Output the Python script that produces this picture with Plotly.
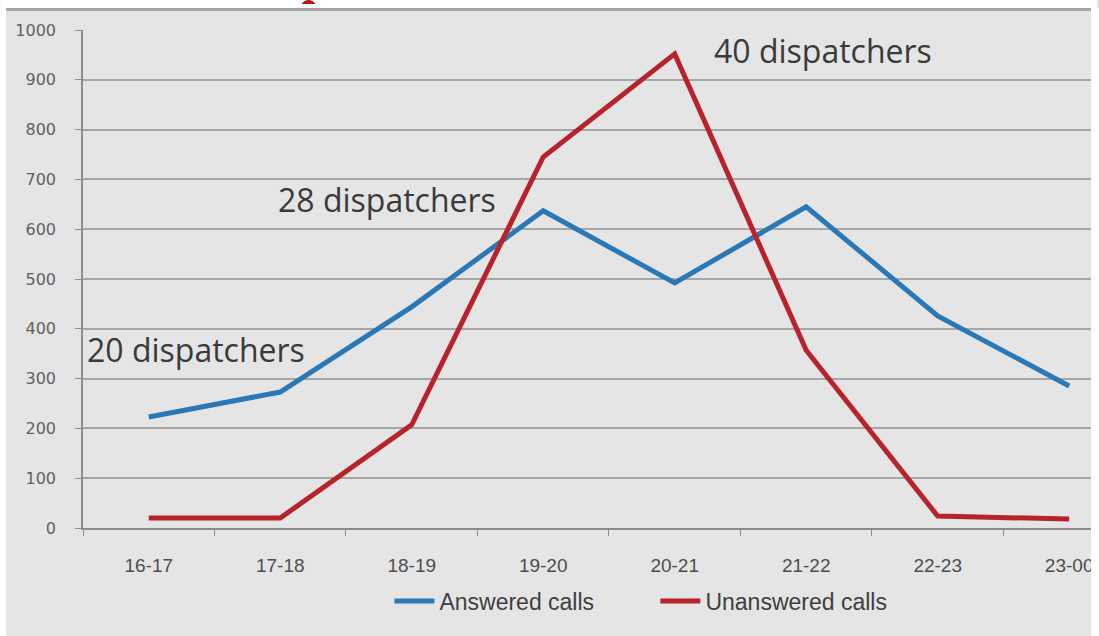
import plotly.graph_objects as go

# Hourly call volumes per evening time slot
hours = ["16-17", "17-18", "18-19", "19-20", "20-21", "21-22", "22-23", "23-00"]
answered = [223, 273, 444, 637, 492, 645, 426, 285]
unanswered = [20, 20, 207, 745, 952, 357, 24, 18]
y_ticks = [0, 100, 200, 300, 400, 500, 600, 700, 800, 900, 1000]

# Staffing notes placed over the chart: (text, left px, centre px)
notes = [
    ("20 dispatchers", 85, 349),
    ("28 dispatchers", 276, 199),
    ("40 dispatchers", 713, 51),
]

W, H = 1099, 636
L, R, T, B = 83, 6, 30, 108
PW, PH = W - L - R, H - T - B
BG = "#e5e5e5"
GRID = "#a6a6a6"
SANS = "Liberation Sans, Arial, sans-serif"

fig = go.Figure()
fig.add_trace(go.Scatter(
    x=hours, y=answered, name="Answered calls", mode="lines",
    line=dict(color="#2b78b6", width=5),
))
fig.add_trace(go.Scatter(
    x=hours, y=unanswered, name="Unanswered calls", mode="lines",
    line=dict(color="#b8232b", width=5),
))


def px_x(px):
    return (px - L) / PW


def px_y(py):
    return (H - B - py) / PH


for text, left, mid in notes:
    fig.add_annotation(
        text=text, xref="paper", yref="paper",
        x=px_x(left), y=px_y(mid), xanchor="left", yanchor="middle",
        showarrow=False,
        font=dict(family="Open Sans, sans-serif", size=32, color="#3a3a3a"),
    )

shapes = [
    # white strip at the top with a grey rule below it
    dict(type="rect", xref="paper", yref="paper",
         x0=px_x(0), x1=px_x(W), y0=px_y(8), y1=px_y(-2),
         fillcolor="white", line_width=0, layer="above"),
    dict(type="line", xref="paper", yref="paper",
         x0=px_x(0), x1=px_x(W), y0=px_y(9.5), y1=px_y(9.5),
         line=dict(color="#a3a3a3", width=3), layer="above"),
    # white margins on the left and right edges
    dict(type="rect", xref="paper", yref="paper",
         x0=px_x(-2), x1=px_x(6), y0=px_y(H + 2), y1=px_y(8),
         fillcolor="white", line_width=0, layer="above"),
    dict(type="rect", xref="paper", yref="paper",
         x0=px_x(1093), x1=px_x(W + 2), y0=px_y(H + 2), y1=px_y(8),
         fillcolor="white", line_width=0, layer="above"),
    # lower edge of the heading glyph above the rule
    dict(type="path", xref="paper", yref="paper",
         path=f"M {px_x(302)},{px_y(4)} Q {px_x(305)},{px_y(0)} {px_x(309)},{px_y(0)} "
              f"Q {px_x(313)},{px_y(0)} {px_x(316)},{px_y(4)} Z",
         fillcolor="#c0101a", line_width=0, layer="above"),
]

fig.update_layout(
    width=W, height=H,
    margin=dict(l=L, r=R, t=T, b=B, pad=0),
    paper_bgcolor=BG, plot_bgcolor=BG,
    showlegend=True,
    legend=dict(
        orientation="h", xref="paper", yref="paper",
        x=px_x(390), y=px_y(601), xanchor="left", yanchor="middle",
        font=dict(family=SANS, size=23, color="#3f3f3f"),
        bgcolor="rgba(0,0,0,0)", itemwidth=40, tracegroupgap=0,
        entrywidth=211, entrywidthmode="pixels",
    ),
    shapes=shapes,
)

fig.update_xaxes(
    type="category", range=[-0.5, -0.5 + PW / ((1137 - L) / 8)],
    tickson="boundaries", ticks="outside", ticklen=6, tickcolor="#8c8c8c",
    showgrid=False, showline=True, linecolor="#8c8c8c", linewidth=1.5,
    tickfont=dict(family=SANS, size=19, color="#4d4d4d"),
    ticklabelstandoff=19,
    zeroline=False, fixedrange=True,
)
fig.update_yaxes(
    range=[0, 1000], tickvals=y_ticks, ticktext=[str(v) for v in y_ticks],
    ticks="outside", ticklen=6, tickcolor="#8c8c8c",
    showgrid=True, gridcolor=GRID, gridwidth=1.5,
    showline=True, linecolor="#8c8c8c", linewidth=1.5,
    tickfont=dict(family="DejaVu Sans, sans-serif", size=16, color="#616161"),
    ticklabelstandoff=16,
    zeroline=False, fixedrange=True,
)

fig.write_html("out.html")
